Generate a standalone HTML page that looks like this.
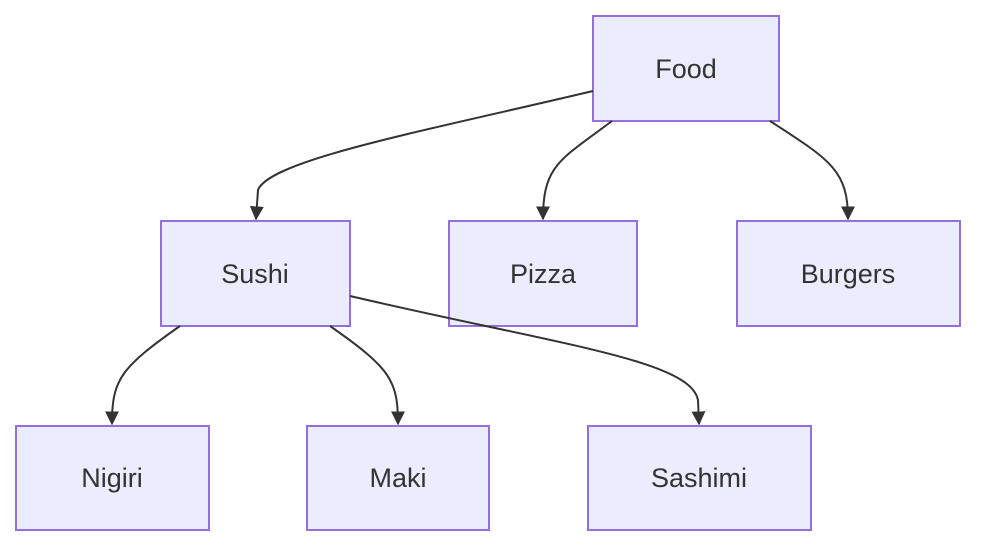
<!DOCTYPE html>
<html><head><meta charset="utf-8"><style>
html,body{margin:0;padding:0;background:#fff;}
svg{display:block}
text{font-family:"Liberation Sans",sans-serif;font-size:27px;fill:#333;text-anchor:middle;dominant-baseline:central}
.n{fill:#ECECFF;stroke:#9370DB;stroke-width:2}
.e{fill:none;stroke:#333;stroke-width:2}
</style></head><body>
<svg width="992" height="556" viewBox="0 0 992 556">
<defs><marker id="a" viewBox="0 0 10 10" refX="9" refY="5" markerWidth="7" markerHeight="7" orient="auto"><path d="M0,0L10,5L0,10z" fill="#333"/></marker></defs>
<rect class="n" x="593" y="16" width="186" height="105"/>
<rect class="n" x="161" y="221" width="189" height="105"/>
<rect class="n" x="449" y="221" width="188" height="105"/>
<rect class="n" x="737" y="221" width="223" height="105"/>
<rect class="n" x="16" y="426" width="193" height="104"/>
<rect class="n" x="307" y="426" width="182" height="104"/>
<rect class="n" x="588" y="426" width="223" height="104"/>
<path class="e" marker-end="url(#a)" d="M593,91 C420,132 270,160 258,190 L256,219"/>
<path class="e" marker-end="url(#a)" d="M612,121 C560,160 543,165 543,219"/>
<path class="e" marker-end="url(#a)" d="M770,121 C830,160 848,170 848,219"/>
<path class="e" marker-end="url(#a)" d="M180,326 C120,368 112,380 112,424"/>
<path class="e" marker-end="url(#a)" d="M330,326 C390,368 398,380 398,424"/>
<path class="e" marker-end="url(#a)" d="M350,296 C560,345 690,360 698,400 L699,424"/>
<text x="686" y="69">Food</text>
<text x="255" y="274">Sushi</text>
<text x="543" y="274">Pizza</text>
<text x="848" y="274">Burgers</text>
<text x="112" y="478">Nigiri</text>
<text x="398" y="478">Maki</text>
<text x="699" y="478">Sashimi</text>
</svg>
</body></html>
